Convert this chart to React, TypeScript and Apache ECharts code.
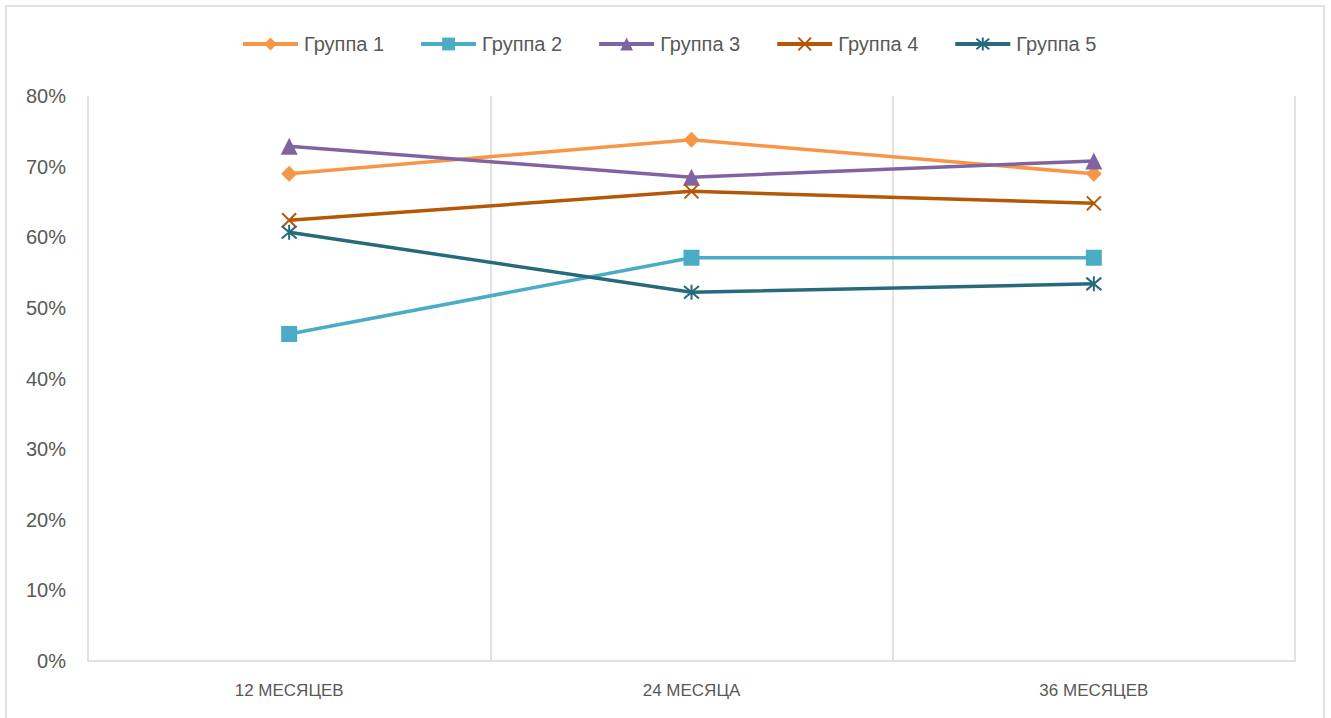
import React, { useEffect, useRef } from "react";
import * as echarts from "echarts";

const categories = ["12 МЕСЯЦЕВ", "24 МЕСЯЦА", "36 МЕСЯЦЕВ"];
const seriesNames = ["Группа 1", "Группа 2", "Группа 3", "Группа 4", "Группа 5"];
const group1 = [69.0, 73.8, 69.0];
const group2 = [46.3, 57.1, 57.1];
const group3 = [72.9, 68.5, 70.8];
const group4 = [62.4, 66.5, 64.8];
const group5 = [60.7, 52.2, 53.4];
const colors = ["#F79646", "#4BACC6", "#8064A2", "#B65708", "#276A7C"];

const crossPath = "path://M0,0L10,10M10,0L0,10";
const starPath = "path://M0,0L10,10M10,0L0,10M5,-1L5,11";

export default function App() {
  const ref = useRef<HTMLDivElement>(null);
  useEffect(() => {
    if (!ref.current) return;
    const chart = echarts.init(ref.current, null, { renderer: "svg" });
    const values = [group1, group2, group3, group4, group5];
    const symbols: any[] = ["diamond", "rect", "triangle", crossPath, starPath];
    const sizes: any[] = [16, 16, 17, 14, 15];
    chart.setOption({
      animation: false,
      color: colors,
      textStyle: { fontFamily: "Liberation Sans, Arial, sans-serif" },
      graphic: [
        {
          type: "rect",
          shape: { x: 6, y: 6, width: 1318, height: 720 },
          style: { fill: "none", stroke: "#D9D9D9", lineWidth: 1.5 },
          silent: true,
        },
      ],
      legend: {
        top: 29,
        left: 236,
        itemWidth: 55,
        itemHeight: 16,
        itemGap: 35,
        textStyle: { fontSize: 20, color: "#595959", padding: [0, 0, 0, 1] },
        lineStyle: { width: 4 },
        data: seriesNames,
      },
      grid: { left: 88, right: 36, top: 96, bottom: 57, containLabel: false },
      xAxis: {
        type: "category",
        data: categories,
        boundaryGap: true,
        axisLine: { show: true, lineStyle: { color: "#D9D9D9", width: 1.5 } },
        axisTick: { show: false },
        splitLine: { show: true, lineStyle: { color: "#D9D9D9", width: 1.5 } },
        axisLabel: { fontSize: 17, color: "#595959", margin: 21 },
      },
      yAxis: {
        type: "value",
        min: 0,
        max: 80,
        interval: 10,
        axisLine: { show: false },
        axisTick: { show: false },
        splitLine: { show: false },
        axisLabel: { formatter: "{value}%", fontSize: 20, color: "#595959", margin: 22 },
      },
      series: seriesNames.map((name, i) => ({
        name,
        type: "line",
        data: values[i],
        symbol: symbols[i],
        symbolSize: sizes[i],
        showSymbol: true,
        lineStyle: { width: 3.5, color: colors[i] },
        itemStyle:
          i >= 3
            ? { color: colors[i], borderColor: colors[i], borderWidth: 2 }
            : { color: colors[i] },
        emphasis: { disabled: true },
      })),
    });
    return () => chart.dispose();
  }, []);
  return (
    <div
      ref={ref}
      style={{ position: "absolute", left: 0, top: 0, width: 1331, height: 718, background: "#fff" }}
    />
  );
}
